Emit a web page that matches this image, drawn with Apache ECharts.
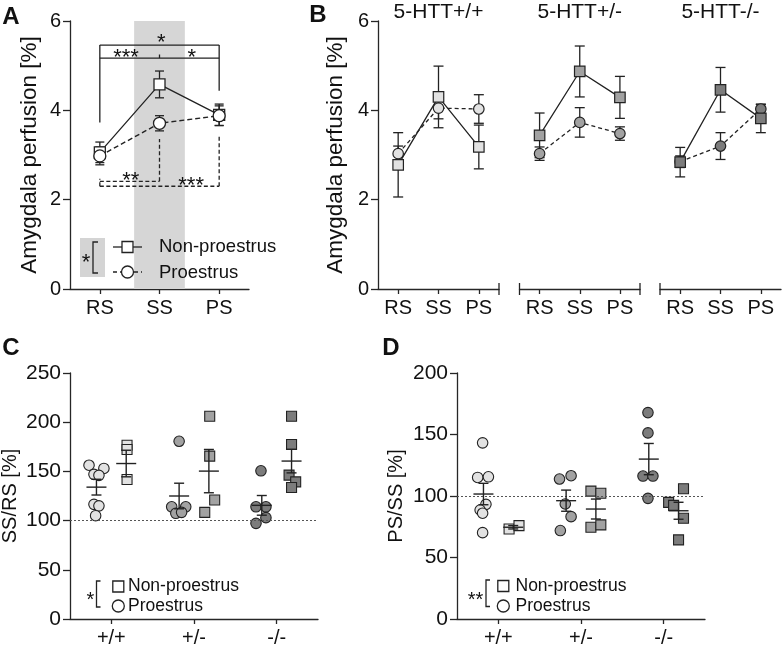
<!DOCTYPE html>
<html><head><meta charset="utf-8">
<script src="https://cdn.jsdelivr.net/npm/echarts@6/dist/echarts.min.js"></script>
<style>html,body{margin:0;padding:0;background:#fff}#c{width:782px;height:645px}</style>
</head><body><div id="c"></div>
<script>
// ================= DATA =================
const phases = ['RS', 'SS', 'PS'];
const genotypes = ['+/+', '+/-', '-/-'];
const bTitles = ['5-HTT+/+', '5-HTT+/-', '5-HTT-/-'];
const legendNames = ['Non-proestrus', 'Proestrus'];
const yAxisA = { min: 0, max: 6, step: 2, name: 'Amygdala perfusion [%]' };
const yAxisC = { min: 0, max: 250, step: 50, name: 'SS/RS [%]' };
const yAxisD = { min: 0, max: 200, step: 50, name: 'PS/SS [%]' };
const refLine = 100;

// Panel A: means and SEM
const aNonPro = [3.06, 4.58, 3.90];
const aNonProSem = [0.23, 0.30, 0.24];
const aPro = [2.98, 3.71, 3.88];
const aProSem = [0.20, 0.17, 0.22];
// Panel A significance brackets [x1, y1, x2, y2, dashed]
const aBrackets = [
  [0, 5.46, 2, 5.46, 0], [0, 5.46, 0, 3.73, 0], [2, 5.46, 2, 4.44, 0],
  [0, 5.17, 2, 5.17, 0], [1, 5.17, 1, 5.25, 0],
  [0, 2.41, 1, 2.41, 1], [1, 2.41, 1, 3.36, 1],
  [0, 2.30, 2, 2.30, 1], [2, 2.30, 2, 3.44, 1], [0, 2.30, 0, 2.47, 1]
];
const aStarLabels = ['*', '***', '*', '**', '***'];
const aStarPos = [[1.03, 5.61], [0.44, 5.29], [1.54, 5.29], [0.52, 2.54], [1.53, 2.41]];

// Panel B: per genotype [RS, SS, PS]
const bNonPro = [[2.78, 4.30, 3.18], [3.44, 4.87, 4.29], [2.84, 4.46, 3.82]];
const bNonProSem = [[0.72, 0.69, 0.49], [0.50, 0.57, 0.47], [0.33, 0.50, 0.32]];
const bPro = [[3.03, 4.05, 4.03], [3.03, 3.73, 3.48], [2.85, 3.20, 4.03]];
const bProSem = [[0.17, 0.24, 0.32], [0.15, 0.33, 0.15], [0.13, 0.30, 0.10]];

// Panel C: individual values (SS/RS %) and horizontal offsets within genotype
const cProVals = [[156.3, 153, 147, 146, 116.5, 115, 105], [180.6, 114, 114, 107.4, 108.4], [150.6, 114, 114, 103, 97.2]];
const cProOffs = [[-0.27, -0.09, -0.21, -0.15, -0.21, -0.15, -0.19], [-0.18, -0.27, -0.10, -0.22, -0.15], [-0.19, -0.25, -0.13, -0.13, -0.25]];
const cNonProVals = [[176.6, 172.3, 141.8], [206, 165.5, 121, 108.4], [206, 177.3, 146.2, 139.4, 133.7]];
const cNonProOffs = [[0.19, 0.19, 0.19], [0.19, 0.19, 0.25, 0.13], [0.18, 0.18, 0.15, 0.23, 0.18]];
const cProMean = [134, 125, 115.5];
const cProSem = [8, 13, 10];
const cNonProMean = [158, 150.3, 160.5];
const cNonProSem = [13.5, 22, 12];

// Panel D: individual values (PS/SS %)
const dProVals = [[143.2, 115.1, 115.6, 93.2, 88.6, 86, 70.2], [113.8, 116.5, 93.5, 83.2, 71.9], [167.8, 151.3, 116.2, 116.2, 98.1]];
const dProOffs = [[-0.19, -0.25, -0.12, -0.15, -0.22, -0.19, -0.19], [-0.26, -0.12, -0.19, -0.12, -0.25], [-0.19, -0.19, -0.25, -0.13, -0.19]];
const dNonProVals = [[73.2, 75.9], [104, 102.2, 74.6, 76.5], [105.9, 94.8, 92.4, 81.9, 64.3]];
const dNonProOffs = [[0.13, 0.25], [0.12, 0.24, 0.12, 0.24], [0.24, 0.06, 0.12, 0.24, 0.18]];
const dProMean = [101.6, 96.2, 130];
const dProSem = [8.7, 8.6, 12.7];
const dNonProMean = [74.6, 89.4, 88];
const dNonProSem = [1.4, 8.1, 6.9];

// ================= STYLE / LAYOUT =================
const FONT = '"Liberation Sans", Arial, Helvetica, sans-serif';
const AX = '#262626';
const INK = '#111';
const genoFill = ['#e2e2e2', '#a2a2a2', '#7c7c7c'];
const meanOff = 0.18;
const GA = { left: 70, top: 21, width: 179, height: 268 };
const GB = [{ left: 378, width: 121 }, { left: 519.5, width: 120.5 }, { left: 660, width: 121 }];
const GC = { left: 70, top: 373, width: 248, height: 246 };
const GD = { left: 457, top: 373, width: 248, height: 246 };

const grids = [
  GA,
  ...GB.map(g => ({ left: g.left, width: g.width, top: GA.top, height: GA.height })),
  GC, GD
].map(g => Object.assign({ outerBoundsMode: 'none', containLabel: false }, g));

function catAxis(gridIndex, data, fontSize) {
  return {
    type: 'category', gridIndex, data, boundaryGap: true,
    axisLine: { show: true, onZero: false, lineStyle: { color: AX, width: 1.3 } },
    axisTick: { show: true, alignWithLabel: true, length: 5, lineStyle: { color: AX, width: 1.3 } },
    axisLabel: { show: true, color: INK, fontSize, fontFamily: FONT, margin: 9 },
    splitLine: { show: false }
  };
}
function hiddenVal(gridIndex) {
  return { type: 'value', gridIndex, min: -0.5, max: 2.5, show: false, axisLine: { onZero: false }, splitLine: { show: false } };
}
function valAxis(gridIndex, ax, nameGap, fontSize, nameSize, show) {
  return {
    type: 'value', gridIndex, min: ax.min, max: ax.max, interval: ax.step, show: show !== false,
    name: show === false ? '' : ax.name, nameLocation: 'middle', nameGap, nameRotate: 90,
    nameTextStyle: { color: INK, fontSize: nameSize, fontFamily: FONT },
    axisLine: { show: true, onZero: false, lineStyle: { color: AX, width: 1.3 } },
    axisTick: { show: true, length: 7, lineStyle: { color: AX, width: 1.3 } },
    axisLabel: { color: INK, fontSize, fontFamily: FONT, margin: 9 },
    splitLine: { show: false }
  };
}

const xAxes = [
  catAxis(0, phases, 20),
  catAxis(1, phases, 20), catAxis(2, phases, 20), catAxis(3, phases, 20),
  catAxis(4, genotypes, 20), hiddenVal(4),
  catAxis(5, genotypes, 20), hiddenVal(5)
];
const yAxes = [
  valAxis(0, yAxisA, 29, 20, 22.5),
  valAxis(1, yAxisA, 31, 20, 22.5), valAxis(2, yAxisA, 31, 20, 22.5, false), valAxis(3, yAxisA, 31, 20, 22.5, false),
  valAxis(4, yAxisC, 50, 21, 20),
  valAxis(5, yAxisD, 51, 21, 20)
];

// ---------- renderers ----------
function errRender(cap) {
  return function (params, api) {
    const x = api.value(0), lo = api.value(1), hi = api.value(2);
    const a = api.coord([x, lo]), b = api.coord([x, hi]);
    const st = { stroke: '#222', lineWidth: 1.3 };
    return { type: 'group', children: [
      { type: 'line', shape: { x1: a[0], y1: a[1], x2: b[0], y2: b[1] }, style: st },
      { type: 'line', shape: { x1: a[0] - cap / 2, y1: a[1], x2: a[0] + cap / 2, y2: a[1] }, style: st },
      { type: 'line', shape: { x1: b[0] - cap / 2, y1: b[1], x2: b[0] + cap / 2, y2: b[1] }, style: st }
    ] };
  };
}
function meanRender(params, api) {
  const x = api.value(0), m = api.value(1), s = api.value(2);
  const c = api.coord([x, m]), t = api.coord([x, m + s]), b = api.coord([x, m - s]);
  const st = { stroke: '#222', lineWidth: 1.4 };
  return { type: 'group', children: [
    { type: 'line', shape: { x1: c[0] - 10, y1: c[1], x2: c[0] + 10, y2: c[1] }, style: st },
    { type: 'line', shape: { x1: t[0], y1: t[1], x2: b[0], y2: b[1] }, style: st },
    { type: 'line', shape: { x1: t[0] - 5, y1: t[1], x2: t[0] + 5, y2: t[1] }, style: st },
    { type: 'line', shape: { x1: b[0] - 5, y1: b[1], x2: b[0] + 5, y2: b[1] }, style: st }
  ] };
}
function bracketRender(params, api) {
  const a = api.coord([api.value(0), api.value(1)]), b = api.coord([api.value(2), api.value(3)]);
  const dashed = api.value(4) === 1;
  return { type: 'line', shape: { x1: a[0], y1: a[1], x2: b[0], y2: b[1] },
    style: { stroke: '#222', lineWidth: 1.3, lineDash: dashed ? [4, 2.5] : null } };
}
function starRender(params, api) {
  const xv = api.value(0), yv = api.value(1);
  const p0 = api.coord([0, yv]);
  const bw = api.size([1, 0])[0];
  return { type: 'text', style: { text: aStarLabels[params.dataIndex], x: p0[0] + xv * bw, y: p0[1] + 5,
    font: '22px ' + FONT, fill: INK, align: 'center', textAlign: 'center', verticalAlign: 'middle', textVerticalAlign: 'middle' } };
}
function bandRender(params, api) {
  const top = api.coord([api.value(0), api.value(2)]), bot = api.coord([api.value(0), api.value(1)]);
  const w = api.size([1, 0])[0] * 0.85;
  return { type: 'rect', shape: { x: top[0] - w / 2, y: top[1], width: w, height: bot[1] - top[1] },
    style: { fill: '#d6d6d6' } };
}

const series = [];
// ---------- Panel A ----------
series.push({ type: 'custom', xAxisIndex: 0, yAxisIndex: 0, z: 1, silent: true, renderItem: bandRender,
  encode: { x: 0, y: [1, 2] }, data: [[1, yAxisA.min, yAxisA.max]] });
series.push({ type: 'custom', xAxisIndex: 0, yAxisIndex: 0, z: 3, silent: true, renderItem: bracketRender,
  encode: { x: [0, 2], y: [1, 3] }, data: aBrackets });
series.push({ type: 'custom', xAxisIndex: 0, yAxisIndex: 0, z: 3, silent: true, renderItem: starRender,
  encode: { x: 0, y: 1 }, data: aStarPos });
series.push({ type: 'custom', xAxisIndex: 0, yAxisIndex: 0, z: 3, silent: true, renderItem: errRender(9),
  encode: { x: 0, y: [1, 2] }, data: aNonPro.map((v, i) => [i, v - aNonProSem[i], v + aNonProSem[i]]) });
series.push({ type: 'custom', xAxisIndex: 0, yAxisIndex: 0, z: 3, silent: true, renderItem: errRender(9),
  encode: { x: 0, y: [1, 2] }, data: aPro.map((v, i) => [i, v - aProSem[i], v + aProSem[i]]) });
series.push({ type: 'line', xAxisIndex: 0, yAxisIndex: 0, z: 4, silent: true, data: aNonPro,
  symbol: 'rect', symbolSize: 11, lineStyle: { color: '#222', width: 1.3 },
  itemStyle: { color: '#fff', borderColor: '#222', borderWidth: 1.3 } });
series.push({ type: 'line', xAxisIndex: 0, yAxisIndex: 0, z: 5, silent: true, data: aPro,
  symbol: 'circle', symbolSize: 12, lineStyle: { color: '#222', width: 1.4, type: [5, 3] },
  itemStyle: { color: '#fff', borderColor: '#222', borderWidth: 1.3 } });

// ---------- Panel B ----------
for (let g = 0; g < 3; g++) {
  const xi = 1 + g, yi = 1 + g;
  series.push({ type: 'custom', xAxisIndex: xi, yAxisIndex: yi, z: 3, silent: true, renderItem: errRender(10),
    encode: { x: 0, y: [1, 2] }, data: bPro[g].map((v, i) => [i, v - bProSem[g][i], v + bProSem[g][i]]) });
  series.push({ type: 'custom', xAxisIndex: xi, yAxisIndex: yi, z: 3, silent: true, renderItem: errRender(10),
    encode: { x: 0, y: [1, 2] }, data: bNonPro[g].map((v, i) => [i, v - bNonProSem[g][i], v + bNonProSem[g][i]]) });
  series.push({ type: 'line', xAxisIndex: xi, yAxisIndex: yi, z: 4, silent: true, data: bPro[g],
    symbol: 'circle', symbolSize: 10.5, lineStyle: { color: '#222', width: 1.3, type: [4, 3] },
    itemStyle: { color: genoFill[g], borderColor: '#222', borderWidth: 1.2 } });
  series.push({ type: 'line', xAxisIndex: xi, yAxisIndex: yi, z: 5, silent: true, data: bNonPro[g],
    symbol: 'rect', symbolSize: 10.5, lineStyle: { color: '#222', width: 1.3 },
    itemStyle: { color: genoFill[g], borderColor: '#222', borderWidth: 1.2 } });
}

// ---------- Panels C and D ----------
function dotPanel(xi, yi, proVals, proOffs, npVals, npOffs, proMean, proSem, npMean, npSem) {
  for (let g = 0; g < 3; g++) {
    series.push({ type: 'scatter', xAxisIndex: xi, yAxisIndex: yi, z: 4, silent: true,
      symbol: 'circle', symbolSize: 10.5,
      itemStyle: { color: genoFill[g], borderColor: '#222', borderWidth: 1.1, opacity: 1 },
      data: proVals[g].map((v, i) => [g + proOffs[g][i], v]),
      markLine: g === 0 ? { silent: true, symbol: ['none', 'none'], label: { show: false },
        lineStyle: { type: [2, 2], color: '#555', width: 1.2 }, data: [{ yAxis: refLine }] } : undefined });
    series.push({ type: 'scatter', xAxisIndex: xi, yAxisIndex: yi, z: 4, silent: true,
      symbol: 'rect', symbolSize: 10,
      itemStyle: { color: genoFill[g], borderColor: '#222', borderWidth: 1.1, opacity: 1 },
      data: npVals[g].map((v, i) => [g + npOffs[g][i], v]) });
  }
  series.push({ type: 'custom', xAxisIndex: xi, yAxisIndex: yi, z: 5, silent: true, renderItem: meanRender,
    encode: { x: 0, y: 1 }, data: proMean.map((m, g) => [g - meanOff, m, proSem[g]]) });
  series.push({ type: 'custom', xAxisIndex: xi, yAxisIndex: yi, z: 5, silent: true, renderItem: meanRender,
    encode: { x: 0, y: 1 }, data: npMean.map((m, g) => [g + meanOff, m, npSem[g]]) });
}
dotPanel(5, 4, cProVals, cProOffs, cNonProVals, cNonProOffs, cProMean, cProSem, cNonProMean, cNonProSem);
dotPanel(7, 5, dProVals, dProOffs, dNonProVals, dNonProOffs, dProMean, dProSem, dNonProMean, dNonProSem);

// ---------- Graphics: labels, legends, axis breaks ----------
const graphics = [];
function gText(text, x, y, size, opts) {
  opts = opts || {};
  const al = opts.align || 'left';
  graphics.push({ type: 'text', z: 100, silent: true, style: { text, x, y, fill: INK,
    font: (opts.bold ? 'bold ' : '') + size + 'px ' + FONT,
    align: al, textAlign: al, verticalAlign: 'middle', textVerticalAlign: 'middle' } });
}
function gLine(x1, y1, x2, y2, dash) {
  graphics.push({ type: 'line', z: 100, silent: true, shape: { x1, y1, x2, y2 },
    style: { stroke: '#222', lineWidth: 1.3, lineDash: dash || null } });
}
function gPoly(points) {
  graphics.push({ type: 'polyline', z: 100, silent: true, shape: { points },
    style: { stroke: '#222', lineWidth: 1.3, fill: null } });
}
function gSquare(cx, cy, s, fill) {
  graphics.push({ type: 'rect', z: 101, silent: true, shape: { x: cx - s / 2, y: cy - s / 2, width: s, height: s },
    style: { fill: fill || '#fff', stroke: '#222', lineWidth: 1.3 } });
}
function gCircle(cx, cy, r, fill) {
  graphics.push({ type: 'circle', z: 101, silent: true, shape: { cx, cy, r },
    style: { fill: fill || '#fff', stroke: '#222', lineWidth: 1.3 } });
}

// panel letters
gText('A', 11, 17, 24, { bold: true, align: 'center' });
gText('B', 318, 15, 24, { bold: true, align: 'center' });
gText('C', 11, 348, 24, { bold: true, align: 'center' });
gText('D', 391, 348, 24, { bold: true, align: 'center' });

// panel B titles
GB.forEach((g, i) => gText(bTitles[i], g.left + g.width / 2, 12, 21, { align: 'center' }));

// panel B axis breaks
const bBottom = GA.top + GA.height;
gLine(GB[0].left + GB[0].width, bBottom - 6, GB[0].left + GB[0].width, bBottom + 6);
gLine(GB[1].left, bBottom - 6, GB[1].left, bBottom + 6);
gLine(GB[1].left + GB[1].width, bBottom - 6, GB[1].left + GB[1].width, bBottom + 6);
gLine(GB[2].left, bBottom - 6, GB[2].left, bBottom + 6);

// panel A legend
graphics.push({ type: 'rect', z: 99, silent: true, shape: { x: 80, y: 238, width: 25, height: 39 }, style: { fill: '#d4d4d4' } });
gText('*', 86, 263, 22, { align: 'center' });
gPoly([[98, 242], [93, 242], [93, 273], [98, 273]]);
gLine(113, 247, 142, 247);
gSquare(127.5, 247, 11);
gLine(113, 272, 142, 272, [4, 3]);
gCircle(127.5, 272, 6);
gText(legendNames[0], 159, 247, 18.5);
gText(legendNames[1], 159, 273, 18.5);

// panel C legend
gText('*', 90.5, 600, 20, { align: 'center' });
gPoly([[100.5, 581], [96.5, 581], [96.5, 607], [100.5, 607]]);
gSquare(118.3, 586.5, 11);
gCircle(118.3, 606, 6);
gText(legendNames[0], 128, 586.5, 17.5);
gText(legendNames[1], 128, 606.5, 17.5);

// panel D legend
gText('**', 475.5, 600, 20, { align: 'center' });
gPoly([[490, 580], [486, 580], [486, 606.5], [490, 606.5]]);
gSquare(503.3, 586, 11);
gCircle(503.3, 606, 6);
gText(legendNames[0], 515.5, 586, 17.5);
gText(legendNames[1], 515.5, 606, 17.5);

const chart = echarts.init(document.getElementById('c'), null, { renderer: 'canvas' });
chart.setOption({
  animation: false,
  backgroundColor: '#fff',
  grid: grids,
  xAxis: xAxes,
  yAxis: yAxes,
  series,
  graphic: graphics
});
</script>
</body></html>
